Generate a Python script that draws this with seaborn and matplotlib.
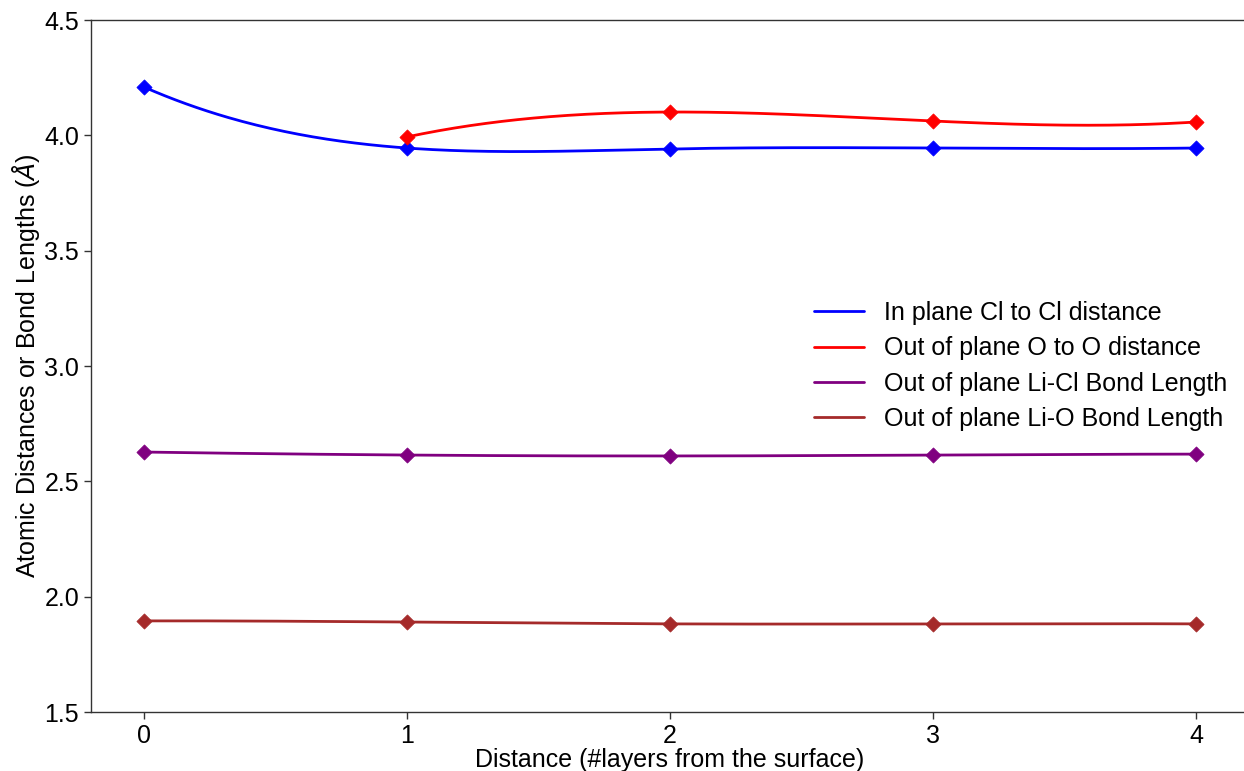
import numpy as np
import pandas as pd
import matplotlib
matplotlib.use("Agg")
import matplotlib.pyplot as plt
import seaborn as sns

# ---- data ----
layers_all = [0, 1, 2, 3, 4]
layers_oo = [1, 2, 3, 4]
cl_cl = [4.210, 3.945, 3.941, 3.945, 3.945]
o_o = [3.993, 4.101, 4.062, 4.058]
li_cl = [2.627, 2.614, 2.610, 2.614, 2.618]
li_o = [1.895, 1.890, 1.882, 1.882, 1.882]

series_names = ["In plane Cl to Cl distance", "Out of plane O to O distance",
                "Out of plane Li-Cl Bond Length", "Out of plane Li-O Bond Length"]
series_x = [layers_all, layers_oo, layers_all, layers_all]
series_y = [cl_cl, o_o, li_cl, li_o]
colors = ["blue", "red", "purple", "brown"]
xticks = [0, 1, 2, 3, 4]
yticks = [1.5, 2.0, 2.5, 3.0, 3.5, 4.0, 4.5]


def notaknot_spline(x, y, xs):
    """Cubic spline with not-a-knot ends (like make_interp_spline k=3)."""
    x = np.asarray(x, float)
    y = np.asarray(y, float)
    n = len(x)
    if n == 4:
        c = np.polyfit(x, y, 3)
        return np.polyval(c, xs)
    h = np.diff(x)
    A = np.zeros((n, n))
    b = np.zeros(n)
    for i in range(1, n - 1):
        A[i, i - 1] = h[i - 1]
        A[i, i] = 2 * (h[i - 1] + h[i])
        A[i, i + 1] = h[i]
        b[i] = 6 * ((y[i + 1] - y[i]) / h[i] - (y[i] - y[i - 1]) / h[i - 1])
    A[0, 0] = h[1]
    A[0, 1] = -(h[0] + h[1])
    A[0, 2] = h[0]
    A[-1, -3] = h[-1]
    A[-1, -2] = -(h[-2] + h[-1])
    A[-1, -1] = h[-2]
    M = np.linalg.solve(A, b)
    out = np.empty_like(xs)
    for k, xv in enumerate(xs):
        i = min(max(np.searchsorted(x, xv) - 1, 0), n - 2)
        t1 = x[i + 1] - xv
        t0 = xv - x[i]
        hi = h[i]
        out[k] = (M[i] * t1 ** 3 / (6 * hi) + M[i + 1] * t0 ** 3 / (6 * hi)
                  + (y[i] / hi - M[i] * hi / 6) * t1
                  + (y[i + 1] / hi - M[i + 1] * hi / 6) * t0)
    return out


sns.set_style("ticks")
plt.rcParams["font.family"] = ["Liberation Sans", "DejaVu Sans"]
plt.rcParams["mathtext.fontset"] = "dejavusans"
plt.rcParams["text.color"] = "black"
plt.rcParams["axes.labelcolor"] = "black"
plt.rcParams["xtick.color"] = "black"
plt.rcParams["ytick.color"] = "black"

fig = plt.figure(figsize=(12.44, 7.71), dpi=100)
ax = fig.add_axes([91 / 1244, 59 / 771, (1249 - 91) / 1244, (712 - 20) / 771])

for name, xs, ys, col in zip(series_names, series_x, series_y, colors):
    xf = np.linspace(min(xs), max(xs), 300)
    yf = notaknot_spline(xs, ys, xf)
    smooth = pd.DataFrame({"x": xf, "y": yf})
    sns.lineplot(data=smooth, x="x", y="y", color=col, lw=2, label=name, ax=ax)
    pts = pd.DataFrame({"x": xs, "y": ys})
    sns.scatterplot(data=pts, x="x", y="y", color=col, marker="D", s=60,
                    edgecolor=col, linewidth=0.5, ax=ax, legend=False, zorder=3)

ax.set_xlim(-0.2, 4.2)
ax.set_ylim(1.5, 4.5)
ax.set_xticks(xticks)
ax.set_yticks(yticks)
ax.set_xticklabels([str(t) for t in xticks])
ax.set_yticklabels([f"{t:.1f}" for t in yticks])
ax.tick_params(labelsize=18, length=5, width=1, color="#333333", labelcolor="black")
ax.set_xlabel("Distance (#layers from the surface)", fontsize=18, labelpad=0)
ax.set_ylabel(r"Atomic Distances or Bond Lengths ($\AA$)", fontsize=18, labelpad=2)

for side in ["left", "bottom", "top"]:
    ax.spines[side].set_visible(True)
    ax.spines[side].set_color("#333333")
    ax.spines[side].set_linewidth(1)
ax.spines["right"].set_visible(False)

leg = ax.legend(loc="center left", bbox_to_anchor=(0.605, 0.5), frameon=False,
                fontsize=18, handlelength=2.0, labelspacing=0.45)
for t in leg.get_texts():
    t.set_color("black")

fig.savefig("out.png", dpi=100)
